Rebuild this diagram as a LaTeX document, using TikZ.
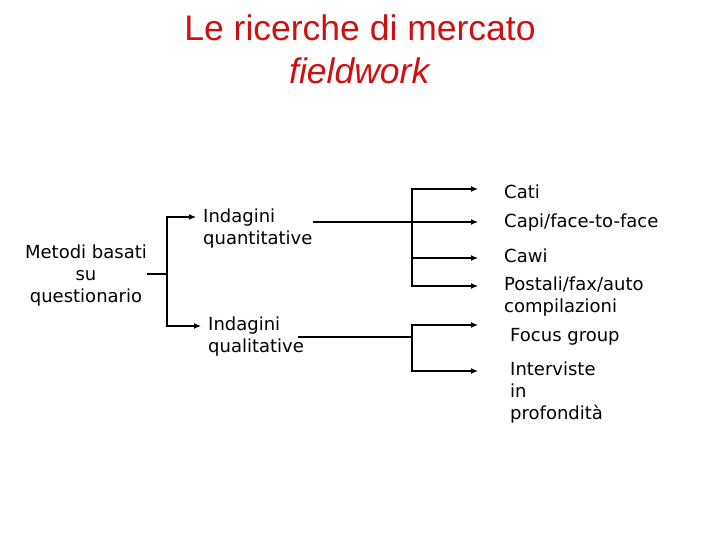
\documentclass[tikz,border=0pt]{standalone}
\usepackage{fontspec}
\setmainfont{DejaVu Sans}
\newfontfamily\titlefont{Liberation Sans}
\usetikzlibrary{arrows.meta}
\definecolor{titlered}{RGB}{208,16,16}
\begin{document}
\begin{tikzpicture}[x=1pt,y=-1pt,
  lbl/.style={inner sep=0pt, align=left, font=\fontsize{18}{21.8}\selectfont, anchor=base west},
  ln/.style={line width=1.2pt},
  arr/.style={ln, -{Latex[length=7pt,width=6pt]}}]
\useasboundingbox (0,0) rectangle (720,540);
\node[font=\titlefont\fontsize{35.5}{43.5}\selectfont, text=titlered, align=center, anchor=base, inner sep=0pt] (title) at (360,84) {Le ricerche di mercato\\\textit{fieldwork}};
\node[lbl, align=center, anchor=base] (metodi) at (86,302) {Metodi basati\\su\\questionario};
\node[lbl] (quant) at (203,244) {Indagini\\quantitative};
\node[lbl] (qual) at (208,352) {Indagini\\qualitative};
\node[lbl] (cati) at (504,199) {Cati};
\node[lbl] (capi) at (504,228) {Capi/face-to-face};
\node[lbl] (cawi) at (504,262) {Cawi};
\node[lbl] (postali) at (504,312) {Postali/fax/auto\\compilazioni};
\node[lbl] (focus) at (510,341) {Focus group};
\node[lbl] (interv) at (510,419) {Interviste\\in\\profondità};
% left branch
\coordinate (j1) at (167,274);
\coordinate (qa) at (196,217);
\coordinate (qb) at (201,326);
\draw[ln] (metodi.east |- j1) -- (j1);
\draw[arr] (j1) |- (qa);
\draw[arr] (j1) |- (qb);
% quantitative branch
\coordinate (j2) at (412,222);
\coordinate (a1) at (478,189);
\coordinate (a2) at (478,222);
\coordinate (a3) at (478,258);
\coordinate (a4) at (478,286);
\draw[arr] (quant.east |- a2) -- (a2);
\draw[arr] (j2) |- (a1);
\draw[arr] (j2) |- (a3);
\draw[arr] (j2) |- (a4);
% qualitative branch
\coordinate (j3) at (412,337);
\coordinate (a5) at (478,325);
\coordinate (a6) at (478,371);
\draw[ln] ([xshift=-6pt]qual.east |- j3) -- (j3);
\draw[arr] (j3) |- (a5);
\draw[arr] (j3) |- (a6);
\end{tikzpicture}
\end{document}
